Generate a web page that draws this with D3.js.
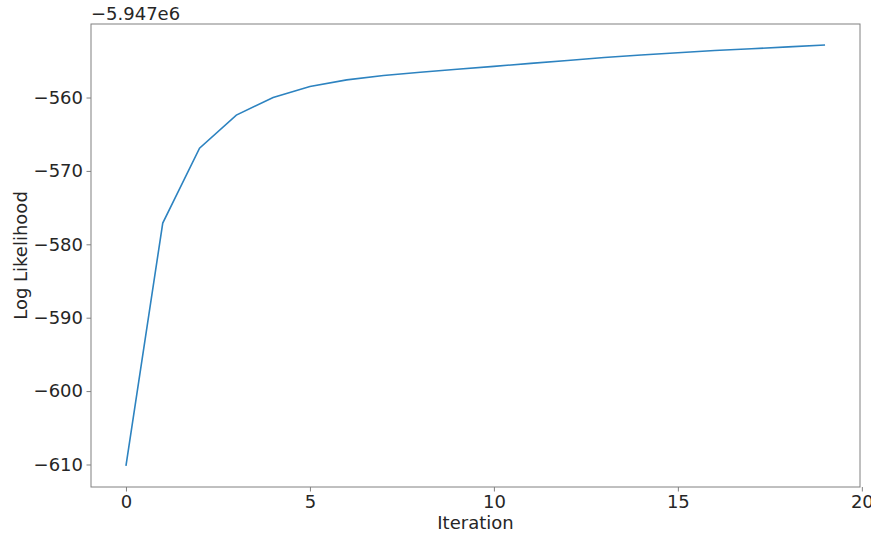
<!DOCTYPE html>
<html>
<head>
<meta charset="utf-8">
<script src="https://cdn.jsdelivr.net/npm/d3@7"></script>
<style>
  body { margin: 0; background: #fff; }
  text { font-family: "DejaVu Sans", sans-serif; fill: #262626; }
</style>
</head>
<body>
<svg id="chart" width="871" height="533"></svg>
<script>
// log likelihood per iteration, shown relative to offset -5.947e6
var iterations = [0, 1, 2, 3, 4, 5, 6, 7, 8, 9, 10, 11, 12, 13, 14, 15, 16, 17, 18, 19];
var logLik = [-610.2, -577.1, -566.9, -562.4, -560.0, -558.5, -557.6, -557.0, -556.55, -556.15,
              -555.75, -555.35, -554.95, -554.55, -554.2, -553.9, -553.6, -553.35, -553.1, -552.85];
var xTicks = [0, 5, 10, 15, 20];
var yTicks = [-610, -600, -590, -580, -570, -560];
var offsetLabel = "\u22125.947e6";

var svg = d3.select("#chart"),
    margin = {top: 24, right: 11, bottom: 46, left: 91},
    width = +svg.attr("width") - margin.left - margin.right,
    height = +svg.attr("height") - margin.top - margin.bottom;

// matplotlib style 5% padding
var xr = d3.extent(iterations), yr = d3.extent(logLik);
var xp = (xr[1] - xr[0]) * 0.05, yp = (yr[1] - yr[0]) * 0.05;

var x = d3.scaleLinear().domain([xr[0] - xp, xr[1] + xp]).range([0, width]);
var y = d3.scaleLinear().domain([yr[0] - yp, yr[1] + yp]).range([height, 0]);

var g = svg.append("g")
    .attr("transform", "translate(" + margin.left + "," + margin.top + ")");

var minus = function(d) { return d < 0 ? "\u2212" + Math.abs(d) : "" + d; };

var gx = g.append("g")
    .attr("transform", "translate(0," + height + ")")
    .call(d3.axisBottom(x).tickValues(xTicks).tickSize(4.5).tickPadding(3.5).tickFormat(minus));

var gy = g.append("g")
    .call(d3.axisLeft(y).tickValues(yTicks).tickSize(4.5).tickPadding(3.5).tickFormat(minus));

[gx, gy].forEach(function(a) {
  a.select(".domain").remove();
  a.selectAll("line").attr("stroke", "#808080").attr("stroke-width", 1);
  a.selectAll("text").style("font-size", "18px").attr("fill", "#262626");
});

// frame
g.append("rect")
    .attr("width", width)
    .attr("height", height)
    .attr("fill", "none")
    .attr("stroke", "#808080")
    .attr("stroke-width", 1);

var line = d3.line()
    .x(function(d, i) { return x(iterations[i]); })
    .y(function(d) { return y(d); });

g.append("path")
    .datum(logLik)
    .attr("fill", "none")
    .attr("stroke", "#2d83c0")
    .attr("stroke-width", 1.6)
    .attr("d", line);

// offset text
svg.append("text")
    .attr("x", margin.left)
    .attr("y", 20)
    .style("font-size", "18px")
    .text(offsetLabel);

svg.append("text")
    .attr("x", margin.left + width / 2)
    .attr("y", 529)
    .attr("text-anchor", "middle")
    .style("font-size", "18px")
    .text("Iteration");

svg.append("text")
    .attr("transform", "translate(27," + (margin.top + height / 2) + ") rotate(-90)")
    .attr("text-anchor", "middle")
    .style("font-size", "18px")
    .text("Log Likelihood");
</script>
</body>
</html>
